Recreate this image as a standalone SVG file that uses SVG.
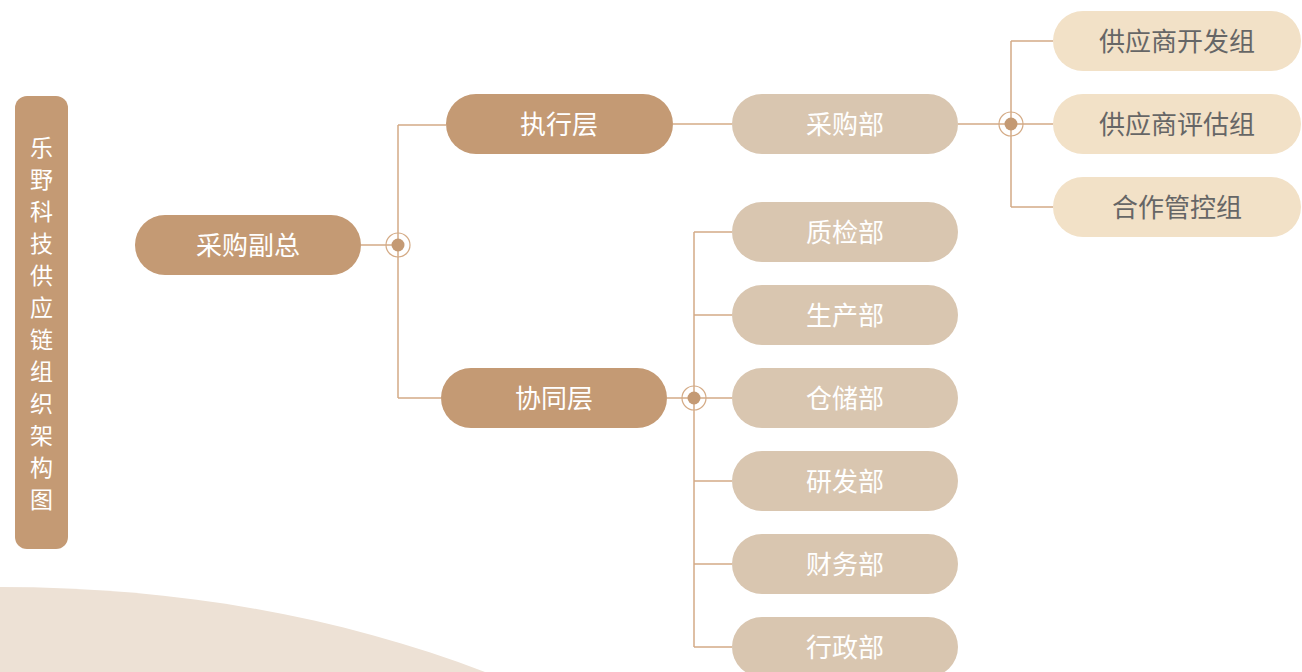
<svg xmlns="http://www.w3.org/2000/svg" width="1302" height="672" viewBox="0 0 1302 672">
<style>
.dk{fill:#c49a74}
.lt{fill:#d9c6b0}
.cr{fill:#f2e1c7}
.t{font-family:"Noto Sans CJK SC","Noto Sans",sans-serif;font-size:26px;text-anchor:middle;dominant-baseline:central}
.w{fill:#ffffff}
.g{fill:#666666}
.ln{fill:none;stroke:#d4ab86;stroke-width:1.5}
.ring{fill:none;stroke:#d4ab86;stroke-width:1.2}
.dot{fill:#c49a74}
</style>
<rect width="1302" height="672" fill="#ffffff"/>
<path d="M0,587 C180,587 340,617 485,672 L0,672 Z" fill="#ede1d5"/>
<g id="title">
<rect x="15" y="96" width="53" height="453" rx="12" class="dk"/>
<text class="t w" style="font-size:23px">
<tspan x="41.5" y="146">乐</tspan><tspan x="41.5" y="178">野</tspan><tspan x="41.5" y="210">科</tspan><tspan x="41.5" y="242">技</tspan><tspan x="41.5" y="274">供</tspan><tspan x="41.5" y="306">应</tspan><tspan x="41.5" y="338">链</tspan><tspan x="41.5" y="370">组</tspan><tspan x="41.5" y="402">织</tspan><tspan x="41.5" y="434">架</tspan><tspan x="41.5" y="466">构</tspan><tspan x="41.5" y="498">图</tspan>
</text>
</g>
<g id="connectors">
<path class="ln" d="M361,245 H398 M398,125 V398 M398,125 H446 M398,398 H441"/>
<path class="ln" d="M673,124 H732"/>
<path class="ln" d="M958,124 H1053 M1011,41 V207 M1011,41 H1053 M1011,207 H1053"/>
<path class="ln" d="M667,398 H732 M694,232 V647 M694,232 H732 M694,315 H732 M694,481 H732 M694,564 H732 M694,647 H732"/>
<circle cx="398" cy="245" r="12" class="ring"/><circle cx="398" cy="245" r="6.5" class="dot"/>
<circle cx="1011" cy="124" r="12" class="ring"/><circle cx="1011" cy="124" r="6.5" class="dot"/>
<circle cx="694" cy="398" r="12" class="ring"/><circle cx="694" cy="398" r="6.5" class="dot"/>
</g>
<g id="n-vp"><rect x="135" y="215" width="226" height="60" rx="30" class="dk"/><text x="248" y="243" class="t w">采购副总</text></g>
<g id="n-exec"><rect x="446" y="94" width="227" height="60" rx="30" class="dk"/><text x="559" y="122" class="t w">执行层</text></g>
<g id="n-coop"><rect x="441" y="368" width="226" height="60" rx="30" class="dk"/><text x="554" y="396" class="t w">协同层</text></g>
<g id="n-purch"><rect x="732" y="94" width="226" height="60" rx="30" class="lt"/><text x="845" y="122" class="t w">采购部</text></g>
<g id="n-qc"><rect x="732" y="202" width="226" height="60" rx="30" class="lt"/><text x="845" y="230" class="t w">质检部</text></g>
<g id="n-prod"><rect x="732" y="285" width="226" height="60" rx="30" class="lt"/><text x="845" y="313" class="t w">生产部</text></g>
<g id="n-wh"><rect x="732" y="368" width="226" height="60" rx="30" class="lt"/><text x="845" y="396" class="t w">仓储部</text></g>
<g id="n-rd"><rect x="732" y="451" width="226" height="60" rx="30" class="lt"/><text x="845" y="479" class="t w">研发部</text></g>
<g id="n-fin"><rect x="732" y="534" width="226" height="60" rx="30" class="lt"/><text x="845" y="562" class="t w">财务部</text></g>
<g id="n-adm"><rect x="732" y="617" width="226" height="60" rx="30" class="lt"/><text x="845" y="645" class="t w">行政部</text></g>
<g id="n-sdev"><rect x="1053" y="11" width="248" height="60" rx="30" class="cr"/><text x="1177" y="39" class="t g">供应商开发组</text></g>
<g id="n-seval"><rect x="1053" y="94" width="248" height="60" rx="30" class="cr"/><text x="1177" y="122" class="t g">供应商评估组</text></g>
<g id="n-sctl"><rect x="1053" y="177" width="248" height="60" rx="30" class="cr"/><text x="1177" y="205" class="t g">合作管控组</text></g>
</svg>
